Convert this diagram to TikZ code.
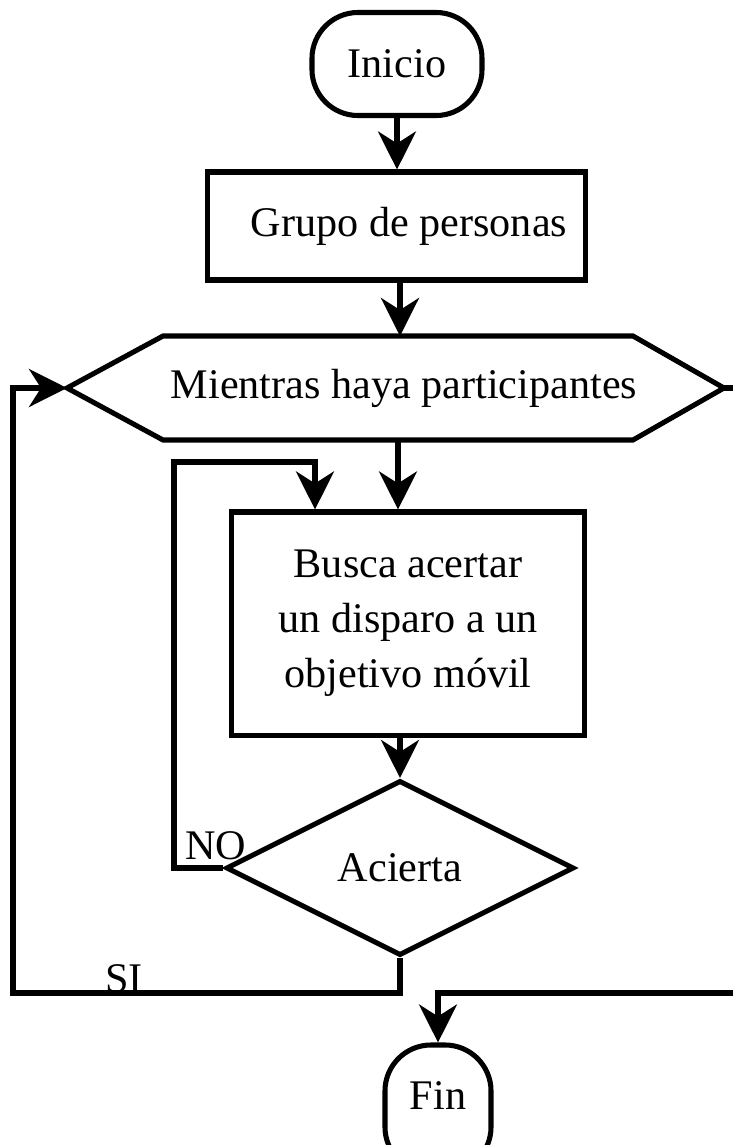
\documentclass[tikz,border=0pt]{standalone}
\usepackage{fontspec}
\setmainfont{Liberation Serif}
\usetikzlibrary{arrows.meta,shapes.geometric,calc}
\begin{document}
\begin{tikzpicture}[x=0.025cm,y=-0.025cm,
  every node/.style={font=\fontsize{30}{39}\selectfont},
  lw/.style={line width=3.6pt},
  box/.style={lw,draw,rectangle,inner sep=0pt},
  term/.style={lw,draw,rectangle,rounded corners=1.15cm,inner sep=0pt},
  arr/.style={lw,-{Stealth[length=0.95cm,width=0.95cm,inset=0.3cm]}},
  con/.style={lw},
  lbl/.style={inner sep=0pt,anchor=base}]
\useasboundingbox (0,0) rectangle (733,1145);
% nodes
\node[term,minimum width=4.25cm,minimum height=2.575cm] (inicio) at (397,64) {Inicio};
\node[box,minimum width=9.425cm,minimum height=2.7cm] (grupo) at (396.5,226) {};
\node[inner sep=0pt] (grupotxt) at (409,226) {Grupo de personas};
% hexagon
\coordinate (hexL) at (67,388);
\coordinate (hexR) at (724,388);
\coordinate (hexT) at (400,336);
\coordinate (hexB) at (398,440);
\draw[lw,line join=miter] (hexL) -- (163,336) -- (633,336) -- (hexR) -- (633,440) -- (163,440) -- cycle;
\node[inner sep=0pt] (hex) at (404,388) {Mientras haya participantes};
\node[box,minimum width=8.8cm,minimum height=5.575cm,align=center] (busca) at (408,623.5) {Busca acertar\\un disparo a un\\objetivo móvil};
\node[lw,draw,diamond,inner sep=0pt,minimum width=8.7cm,minimum height=4.375cm] (dia) at (400,868) {Acierta};
\node[term,minimum width=2.65cm,minimum height=3.2cm] (fin) at (438,1109) {};
\node[inner sep=0pt] (fintxt) at (438,1096) {Fin};
% labels
\node[lbl] (no) at (216,859) {NO};
\node[lbl] (si) at (124,992) {SI};
% helper coordinates
\coordinate (noL) at (174,868);
\coordinate (noTop) at (315,462);
\coordinate (siL) at (13,993);
\coordinate (rEdgeA) at (733,388);
\coordinate (rEdgeB) at (733,993);
% connectors
\draw[arr] (inicio.south) -- (inicio.south |- grupo.north);
\draw[arr] (hexT |- grupo.south) -- (hexT);
\draw[arr] (hexB) -- (hexB |- busca.north);
\draw[arr] (dia.north |- busca.south) -- (dia.north);
\draw[arr,line join=miter] (dia.west) -- (noL) |- (noTop) -- (noTop |- busca.north);
\draw[arr,line join=miter] (dia.south) |- (siL) |- (hexL);
\draw[con] (hexR) -- (rEdgeA);
\draw[arr,line join=miter] (rEdgeB) -| (fin.north);
\end{tikzpicture}
\end{document}
